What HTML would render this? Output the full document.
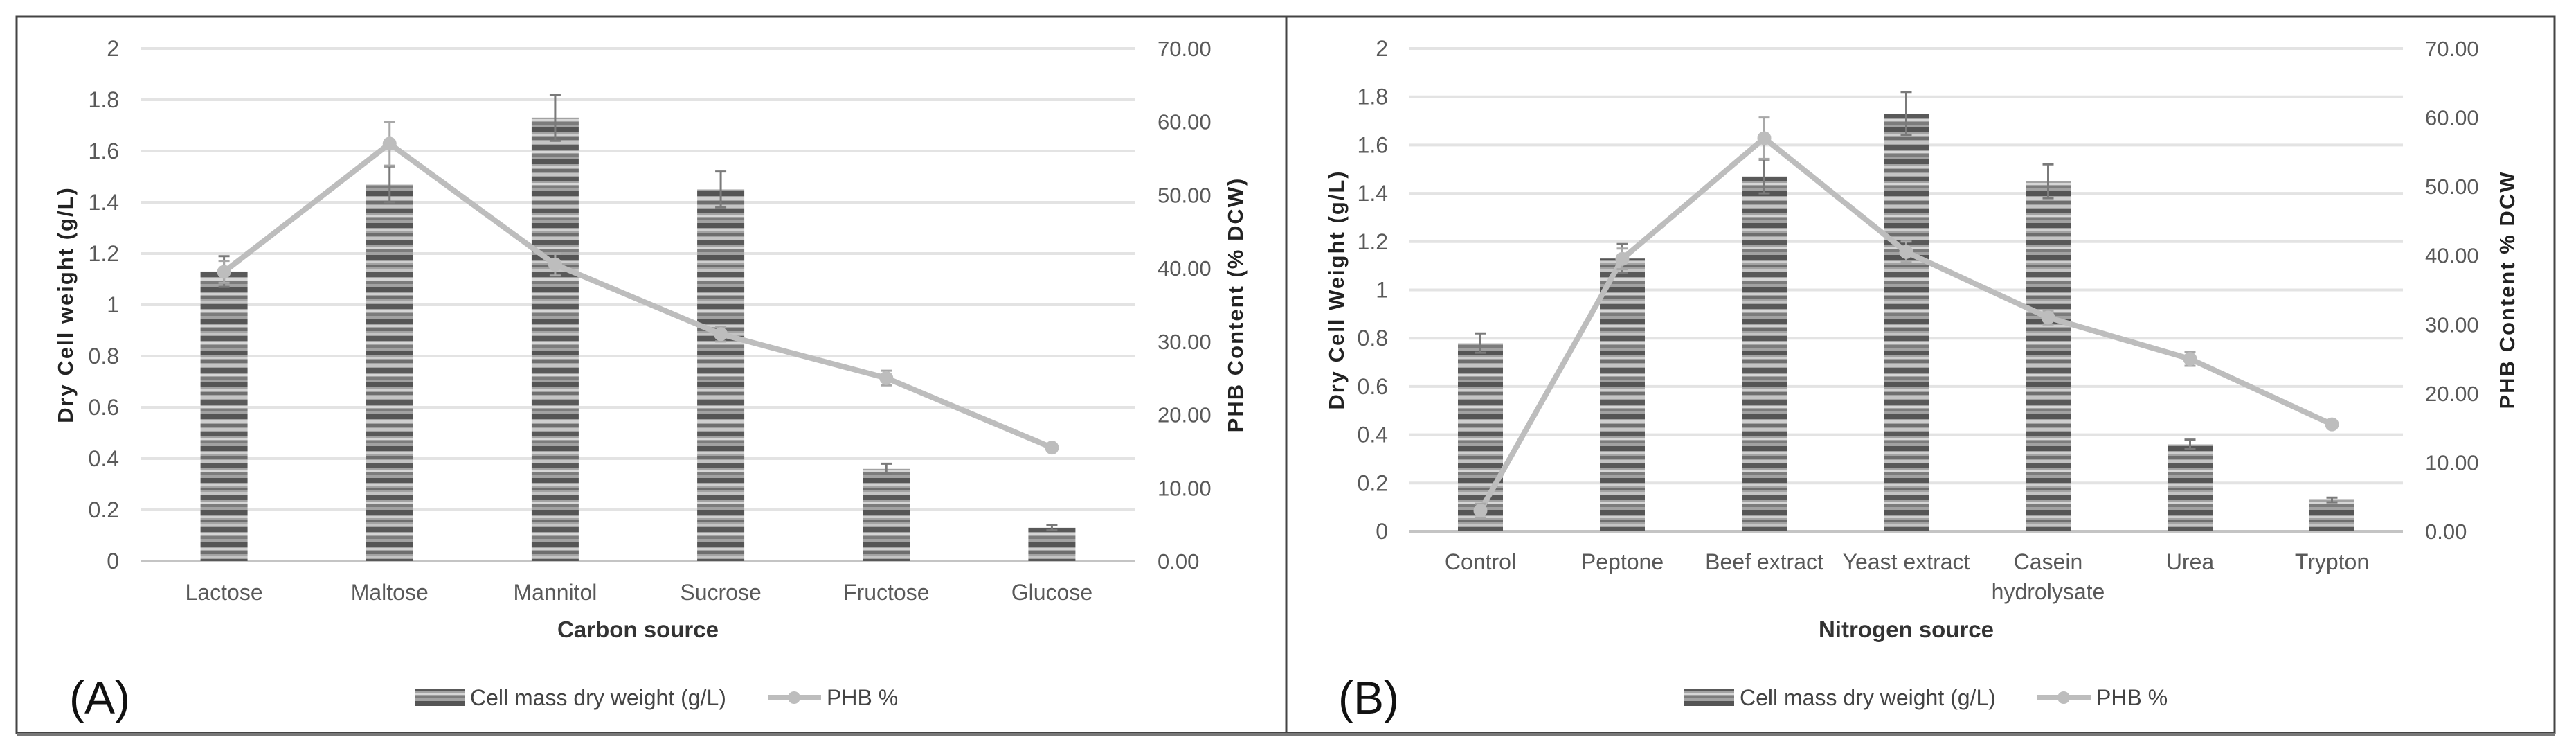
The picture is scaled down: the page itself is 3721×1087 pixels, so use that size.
<!DOCTYPE html>
<html><head><meta charset="utf-8">
<style>
html,body{margin:0;padding:0;background:#fff;}
svg{display:block;}
text{font-family:"Liberation Sans Narrow","Liberation Sans",sans-serif;}
</style></head>
<body>
<svg id="chart" width="3721" height="1087" viewBox="0 0 3721 1087" xmlns="http://www.w3.org/2000/svg">
<defs>
<pattern id="stripes" patternUnits="userSpaceOnUse" width="10" height="46">
<rect width="10" height="46" fill="#a2a2a2"/>
<rect y="0" width="10" height="7" fill="#555"/>
<rect y="9" width="10" height="3" fill="#cfcfcf"/>
<rect y="14" width="10" height="4" fill="#6e6e6e"/>
<rect y="20" width="10" height="4" fill="#c4c4c4"/>
<rect y="25" width="10" height="7" fill="#595959"/>
<rect y="34" width="10" height="3" fill="#d6d6d6"/>
<rect y="38" width="10" height="4" fill="#7c7c7c"/>
</pattern>
</defs>
<rect x="24" y="24" width="3666" height="1034" fill="none" stroke="#444" stroke-width="3"/>
<line x1="1858" y1="24" x2="1858" y2="1058" stroke="#444" stroke-width="3"/>
<line x1="24" y1="1060" x2="3690" y2="1060" stroke="#777" stroke-width="4"/>
<g id="gA"></g>
<g id="gB"></g>
</svg>
<script>
const catsA = ["Lactose","Maltose","Mannitol","Sucrose","Fructose","Glucose"];
const dcwA = [1.13,1.47,1.73,1.45,0.36,0.13];
const dcwErrA = [0.06,0.07,0.09,0.07,0.02,0.01];
const phbA = [39.5,57,40.5,31,25,15.5];
const phbErrA = [1.5,3,1.5,1,1,0.5];
const catsB = ["Control","Peptone","Beef extract","Yeast extract","Casein|hydrolysate","Urea","Trypton"];
const dcwB = [0.78,1.13,1.47,1.73,1.45,0.36,0.13];
const dcwErrB = [0.04,0.06,0.07,0.09,0.07,0.02,0.01];
const phbB = [3,39.5,57,40.5,31,25,15.5];
const phbErrB = [1,1.5,3,1.5,1,1,0.5];
const leftTicks = ["0","0.2","0.4","0.6","0.8","1","1.2","1.4","1.6","1.8","2"];
const rightTicks = ["0.00","10.00","20.00","30.00","40.00","50.00","60.00","70.00"];

const NS="http://www.w3.org/2000/svg";
function mk(parent,tag,attrs,txt){const e=document.createElementNS(NS,tag);for(const k in attrs)e.setAttribute(k,attrs[k]);if(txt!==undefined)e.textContent=txt;parent.appendChild(e);return e;}

function panel(g,cfg){
  const {x0,x1,yTop,yBot,cats,dcw,dcwErr,phb,phbErr,barW}=cfg;
  const yL=v=>yBot-(v/2)*(yBot-yTop);
  const yR=v=>yBot-(v/70)*(yBot-yTop);
  const band=(x1-x0)/cats.length;
  const xc=i=>x0+band*(i+0.5);
  leftTicks.forEach((t,i)=>{
    const v=parseFloat(t);const y=yL(v);
    if(v>0){const gl=mk(g,"line",{x1:x0,x2:x1,y1:y,y2:y,stroke:"#e3e3e3","stroke-width":4});
    
    }
    const tx=mk(g,"text",{x:cfg.lx,y:y+11,"text-anchor":"end","font-size":32,fill:"#595959"},t);
    
    
  });
  rightTicks.forEach(t=>{
    const y=yR(parseFloat(t));
    const tx=mk(g,"text",{x:cfg.rx,y:y+11,"font-size":31,fill:"#595959"},t);
    
    
  });
  const ax=mk(g,"line",{x1:x0,x2:x1,y1:yBot,y2:yBot,stroke:"#c4c4c4","stroke-width":4});
  
  
  cats.forEach((c,i)=>{
    const cx=xc(i);
    const b=mk(g,"rect",{x:cx-barW/2,y:yL(dcw[i]),width:barW,height:yBot-yL(dcw[i]),fill:"url(#stripes)"});
    
    
    const eh=yL(dcw[i]+dcwErr[i]),el=yL(dcw[i]-dcwErr[i]);
    const e=mk(g,"path",{d:`M${cx} ${eh}V${el}M${cx-8} ${eh}H${cx+8}M${cx-8} ${el}H${cx+8}`,stroke:"#7a7a7a","stroke-width":3,fill:"none"});
    
    
    const parts=c.split("|");
    parts.forEach((p,k)=>{
      const tx=mk(g,"text",{x:cx,y:cfg.catY+k*43,"text-anchor":"middle","font-size":32,fill:"#595959"},p);
      
      
    });
  });
  const pts=phb.map((v,i)=>xc(i)+","+yR(v)).join(" ");
  const pl=mk(g,"polyline",{points:pts,fill:"none",stroke:"#bdbdbd","stroke-width":8,"stroke-linejoin":"round"});
  
  
  phb.forEach((v,i)=>{
    const cx=xc(i),eh=yR(v+phbErr[i]),el=yR(v-phbErr[i]);
    const e=mk(g,"path",{d:`M${cx} ${eh}V${el}M${cx-8} ${eh}H${cx+8}M${cx-8} ${el}H${cx+8}`,stroke:"#a8a8a8","stroke-width":3,fill:"none"});
    
    
    const m=mk(g,"circle",{cx:cx,cy:yR(v),r:10,fill:"#bdbdbd"});
    
    
  });
  const yc=(yTop+yBot)/2;
  const lt=mk(g,"text",{x:cfg.ltx,y:yc,"text-anchor":"middle","font-size":31,"font-weight":"bold","letter-spacing":2,fill:"#222",transform:`rotate(-90 ${cfg.ltx} ${yc})`,style:"font-family:'Liberation Sans',sans-serif"},cfg.leftTitle);
  
  
  const rt=mk(g,"text",{x:cfg.rtx,y:yc,"text-anchor":"middle","font-size":31,"font-weight":"bold","letter-spacing":2,fill:"#222",transform:`rotate(-90 ${cfg.rtx} ${yc})`,style:"font-family:'Liberation Sans',sans-serif"},cfg.rightTitle);
  
  
  const xt=mk(g,"text",{x:(x0+x1)/2,y:920,"text-anchor":"middle","font-size":33,"font-weight":"bold",fill:"#333"},cfg.xTitle);
  
  
  const pn=mk(g,"text",{x:cfg.px,y:1030,"font-size":66,fill:"#111"},cfg.label);
  
  
  const sw=mk(g,"rect",{x:cfg.lg,y:995,width:72,height:24,fill:"url(#stripes)"});
  
  
  const l1=mk(g,"text",{x:cfg.lg+80,y:1018,"font-size":32,fill:"#444"},"Cell mass dry weight (g/L)");
  
  
  const ls=mk(g,"line",{x1:cfg.lg+510,x2:cfg.lg+587,y1:1007,y2:1007,stroke:"#bdbdbd","stroke-width":8});
  
  
  const lc=mk(g,"circle",{cx:cfg.lg+548,cy:1007,r:9,fill:"#bdbdbd"});
  
  
  const l2=mk(g,"text",{x:cfg.lg+595,y:1018,"font-size":32,fill:"#444"},"PHB %");
  
  
}
panel(document.getElementById("gA"),{x0:204,x1:1639,yTop:70,yBot:810,cats:catsA,dcw:dcwA,dcwErr:dcwErrA,phb:phbA,phbErr:phbErrA,barW:68,
  lx:172,rx:1672,catY:866,ltx:105,rtx:1795,leftTitle:"Dry Cell weight (g/L)",rightTitle:"PHB Content  (% DCW)",xTitle:"Carbon source",label:"(A)",px:100,lg:599});
panel(document.getElementById("gB"),{x0:2036,x1:3471,yTop:70,yBot:767,cats:catsB,dcw:dcwB,dcwErr:dcwErrB,phb:phbB,phbErr:phbErrB,barW:65,
  lx:2005,rx:3503,catY:822,ltx:1941,rtx:3632,leftTitle:"Dry Cell Weight (g/L)",rightTitle:"PHB Content % DCW",xTitle:"Nitrogen source",label:"(B)",px:1933,lg:2433});
</script>
</body></html>
